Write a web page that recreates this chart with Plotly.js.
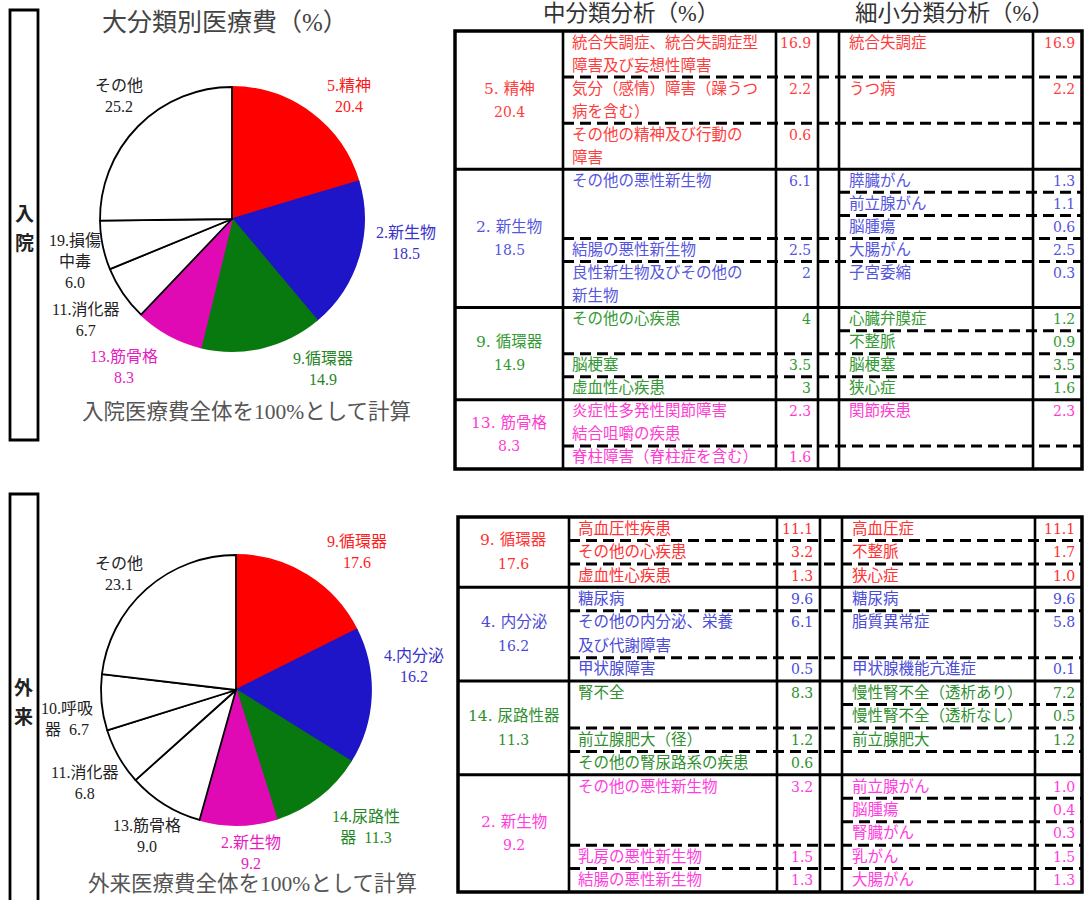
<!DOCTYPE html>
<html><head><meta charset="utf-8">
<script src="https://cdn.plot.ly/plotly-3.0.1.min.js"></script>
<style>html,body{margin:0;padding:0;background:#fff}</style>
</head><body><div id="chart" style="width:1085px;height:900px"></div>
<script>
// ================= DATA =================
// 入院 pie
const inPieNames  = ['5.精神','2.新生物','9.循環器','13.筋骨格','11.消化器','19.損傷<br>中毒','その他'];
const inPieValues = [20.4, 18.5, 14.9, 8.3, 6.7, 6.0, 25.2];
// 外来 pie
const outPieNames  = ['9.循環器','4.内分泌','14.尿路性<br>器','2.新生物','13.筋骨格','11.消化器','10.呼吸<br>器','その他'];
const outPieValues = [17.6, 16.2, 11.3, 9.2, 9.0, 6.8, 6.7, 23.1];

// 入院 table
const inGroupNames  = ['5. 精神','2. 新生物','9. 循環器','13. 筋骨格'];
const inGroupValues = [20.4, 18.5, 14.9, 8.3];
const inMidNames = [
  ['統合失調症、統合失調症型<br>障害及び妄想性障害','気分（感情）障害（躁うつ<br>病を含む）','その他の精神及び行動の<br>障害'],
  ['その他の悪性新生物','結腸の悪性新生物','良性新生物及びその他の<br>新生物'],
  ['その他の心疾患','脳梗塞','虚血性心疾患'],
  ['炎症性多発性関節障害<br>結合咀嚼の疾患','脊柱障害（脊柱症を含む）']
];
const inMidValues = [[16.9, 2.2, 0.6], [6.1, 2.5, 2], [4, 3.5, 3], [2.3, 1.6]];
const inSubNames = [
  [['統合失調症'], ['うつ病'], []],
  [['膵臓がん','前立腺がん','脳腫瘍'], ['大腸がん'], ['子宮委縮']],
  [['心臓弁膜症','不整脈'], ['脳梗塞'], ['狭心症']],
  [['関節疾患'], []]
];
const inSubValues = [
  [[16.9], [2.2], []],
  [[1.3, 1.1, 0.6], [2.5], [0.3]],
  [[1.2, 0.9], [3.5], [1.6]],
  [[2.3], []]
];

// 外来 table
const outGroupNames  = ['9. 循環器','4. 内分泌','14. 尿路性器','2. 新生物'];
const outGroupValues = [17.6, 16.2, 11.3, 9.2];
const outMidNames = [
  ['高血圧性疾患','その他の心疾患','虚血性心疾患'],
  ['糖尿病','その他の内分泌、栄養<br>及び代謝障害','甲状腺障害'],
  ['腎不全','前立腺肥大（径）','その他の腎尿路系の疾患'],
  ['その他の悪性新生物','乳房の悪性新生物','結腸の悪性新生物']
];
const outMidValues = [[11.1, 3.2, 1.3], [9.6, 6.1, 0.5], [8.3, 1.2, 0.6], [3.2, 1.5, 1.3]];
const outSubNames = [
  [['高血圧症'], ['不整脈'], ['狭心症']],
  [['糖尿病'], ['脂質異常症'], ['甲状腺機能亢進症']],
  [['慢性腎不全（透析あり）','慢性腎不全（透析なし）'], ['前立腺肥大'], []],
  [['前立腺がん','脳腫瘍','腎臓がん'], ['乳がん'], ['大腸がん']]
];
const outSubValues = [
  [[11.1], [1.7], [1.0]],
  [[9.6], [5.8], [0.1]],
  [[7.2, 0.5], [1.2], []],
  [[1.0, 0.4, 0.3], [1.5], [1.3]]
];

// ================= STYLE / LAYOUT =================
const W = 1085, H = 900;
const FONT = '"Liberation Serif", "Noto Sans CJK JP", serif';
const TFONT = '"DejaVu Serif", "Noto Sans CJK JP", serif';
const inSliceColors  = ['#ff0000','#1e15c8','#08790f','#e00ab4','#ffffff','#ffffff','#ffffff'];
const outSliceColors = ['#ff0000','#1e15c8','#08790f','#e00ab4','#ffffff','#ffffff','#ffffff','#ffffff'];
const inLabelColors  = ['#ff1a1a','#3a32cc','#1f861f','#e61cc0','#222','#222','#222'];
const outLabelColors = ['#ff1a1a','#3a32cc','#1f861f','#e61cc0','#222','#222','#222','#222'];
const inTableColors  = ['#ff3c3c','#5555dd','#339933','#ff3cd2'];
const outTableColors = ['#ff3030','#4b4bd8','#2f8f2f','#ff3ce0'];
// label placement relative to slice mid-angle: [angle offset deg, radius factor]
const inLabelNudge  = [[6.9,1.29],[-8.8,1.33],[-17.9,1.33],[7.4,1.39],[-0.1,1.35],[-3.5,1.23],[2.8,1.27]];
const outLabelNudge = [[9.5,1.36],[-10.2,1.33],[-5.7,1.40],[-4.3,1.21],[-0.5,1.27],[-2.0,1.32],[-4.5,1.27],[-3.6,1.22]];
const inLabelSep  = ['<br>','<br>','<br>','<br>','<br>','<br>','<br>'];
const outLabelSep = ['<br>','<br>','\u00a0\u00a0','<br>','<br>','<br>','\u00a0\u00a0','<br>'];
const PIE_IN  = {cx: 232, cy: 219, r: 132};
const PIE_OUT = {cx: 236, cy: 690, r: 135};

const shapes = [], annotations = [];
function txt(x, y, text, size, color, xa, extraFont) {
  annotations.push({x, y, xref: 'x', yref: 'y', text, showarrow: false,
    xanchor: xa || 'center', yanchor: 'middle', align: 'center',
    font: Object.assign({family: FONT, size, color}, extraFont || {})});
}
function line(x0, y0, x1, y1, w, dash) {
  shapes.push({type: 'line', xref: 'x', yref: 'y', x0, y0, x1, y1,
    line: {color: '#000', width: w, dash: dash || 'solid'}});
}
function rect(x0, y0, x1, y1, w) {
  shapes.push({type: 'rect', xref: 'x', yref: 'y', x0, y0, x1, y1,
    line: {color: '#000', width: w}, fillcolor: 'rgba(0,0,0,0)'});
}

const FS = 15.5, NFS = 14, DASH = '11px,6px', DW = 3;
const TF = {family: TFONT};
function drawTable(cols, y0, u, gNames, gVals, mNames, mVals, sNames, sVals, colors, fmt) {
  const [xL, xG, xV, xVR, xS, xSV, xR] = cols;
  let y = y0;
  gNames.forEach((g, gi) => {
    const gTop = y;
    const c = colors[gi];
    mNames[gi].forEach((m, ri) => {
      const lines = m.split('<br>');
      const subs = sNames[gi][ri];
      const h = Math.max(lines.length, subs.length, 1);
      lines.forEach((l, li) => txt(xG + 7, y + (li + 0.5) * u, l, FS, c, 'left', TF));
      txt(xVR - 5, y + 0.5 * u, fmt(mVals[gi][ri]), NFS, c, 'right', TF);
      subs.forEach((s, si) => {
        txt(xS + 8, y + (si + 0.5) * u, s, FS, c, 'left', TF);
        txt(xR - 5, y + (si + 0.5) * u, fmt(sVals[gi][ri][si]), NFS, c, 'right', TF);
        if (si < subs.length - 1) line(xS, y + (si + 1) * u, xR, y + (si + 1) * u, DW, DASH);
      });
      y += h * u;
      if (ri < mNames[gi].length - 1) line(xG, y, xR, y, DW, DASH);
    });
    const gc = (gTop + y) / 2;
    txt((xL + xG) / 2, gc - u / 2, g, FS, c, 'center', TF);
    txt((xL + xG) / 2, gc + u / 2, fmt(gVals[gi]), NFS, c, 'center', TF);
    if (gi < gNames.length - 1) line(xL, y, xR, y, 3);
  });
  [xG, xV, xVR, xS, xSV].forEach(x => line(x, y0, x, y, 2.6));
  rect(xL, y0, xR, y, 3.5);
}

function pieTrace(names, values, colors, C) {
  return {type: 'pie', labels: names, values, sort: false, direction: 'clockwise', rotation: 0,
    textinfo: 'none', hoverinfo: 'label+value', showlegend: false,
    marker: {colors, line: {color: colors.map(c => c === '#ffffff' ? '#000' : c), width: 1.8}},
    domain: {x: [(C.cx - C.r) / W, (C.cx + C.r) / W], y: [1 - (C.cy + C.r) / H, 1 - (C.cy - C.r) / H]}};
}
function pieLabels(names, values, C, nudge, colors, seps) {
  const total = values.reduce((a, b) => a + b, 0);
  let cum = 0;
  names.forEach((n, i) => {
    const mid = (cum + values[i] / 2) / total * 360;
    cum += values[i];
    const a = (mid + nudge[i][0]) * Math.PI / 180, d = C.r * nudge[i][1];
    txt(C.cx + d * Math.sin(a), C.cy - d * Math.cos(a), n + seps[i] + values[i].toFixed(1), 16, colors[i]);
  });
}

// headers & notes
txt(225, 22, '大分類別医療費（%）', 25, '#444');
txt(631, 13, '中分類分析（%）', 22.5, '#333');
txt(954, 13, '細小分類分析（%）', 22.5, '#333');
txt(246, 412, '入院医療費全体を100%として計算', 21.5, '#555');
txt(252, 884, '外来医療費全体を100%として計算', 21.5, '#555');
// side boxes
rect(10, 10, 38, 440, 2.8);
rect(10, 494, 38, 910, 2.8);
const SIDE = {family: '"Noto Sans CJK JP", sans-serif', weight: 700};
txt(24, 212, '入', 19, '#222', 'center', SIDE);
txt(24, 241, '院', 19, '#222', 'center', SIDE);
txt(23, 686, '外', 19, '#222', 'center', SIDE);
txt(23, 715, '来', 19, '#222', 'center', SIDE);

pieLabels(inPieNames, inPieValues, PIE_IN, inLabelNudge, inLabelColors, inLabelSep);
pieLabels(outPieNames, outPieValues, PIE_OUT, outLabelNudge, outLabelColors, outLabelSep);

drawTable([455, 563, 776, 818, 839, 1033, 1082], 31, 23.05,
  inGroupNames, inGroupValues, inMidNames, inMidValues, inSubNames, inSubValues, inTableColors, v => String(v));
drawTable([458, 569, 777, 820, 842, 1035, 1082], 517, 23.44,
  outGroupNames, outGroupValues, outMidNames, outMidValues, outSubNames, outSubValues, outTableColors, v => v.toFixed(1));

const data = [
  {type: 'scatter', x: [], y: [], mode: 'markers', hoverinfo: 'skip', showlegend: false},
  pieTrace(inPieNames, inPieValues, inSliceColors, PIE_IN),
  pieTrace(outPieNames, outPieValues, outSliceColors, PIE_OUT)
];
const layout = {
  width: W, height: H, margin: {l: 0, r: 0, t: 0, b: 0, pad: 0},
  paper_bgcolor: '#fff', plot_bgcolor: 'rgba(0,0,0,0)',
  xaxis: {range: [0, W], visible: false, fixedrange: true, domain: [0, 1]},
  yaxis: {range: [H, 0], visible: false, fixedrange: true, domain: [0, 1]},
  showlegend: false, shapes, annotations
};
Plotly.newPlot('chart', data, layout, {displayModeBar: false, staticPlot: true});
</script>
</body></html>
